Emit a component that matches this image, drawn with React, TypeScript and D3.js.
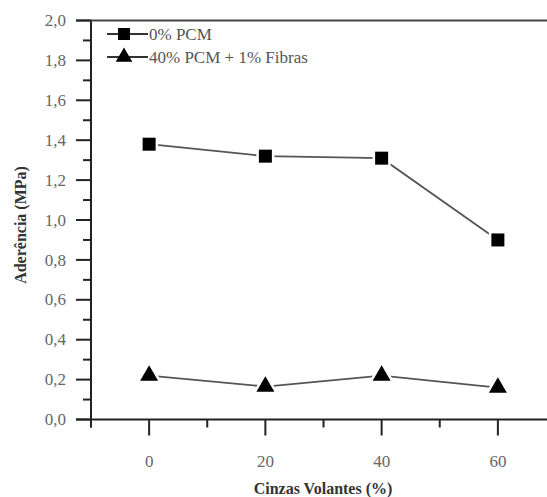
import React from "react";
import * as d3 from "d3";

const cinzas = [0, 20, 40, 60];
const pcm0 = [1.38, 1.32, 1.31, 0.9];
const pcm40 = [0.22, 0.165, 0.22, 0.16];
const yTicks = [0, 0.2, 0.4, 0.6, 0.8, 1.0, 1.2, 1.4, 1.6, 1.8, 2.0];
const yMinor = [0.1, 0.3, 0.5, 0.7, 0.9, 1.1, 1.3, 1.5, 1.7, 1.9];
const xTicks = [0, 20, 40, 60];
const xMinor = [-10, 10, 30, 50];
const seriesNames = ["0% PCM", "40% PCM + 1% Fibras"];

const W = 547;
const H = 497;
const FONT = "Liberation Serif, Times New Roman, serif";

export default function App() {
  const x = d3.scaleLinear().domain([-10, 70]).range([91, 556]);
  const y = d3.scaleLinear().domain([0, 2]).range([419.5, 20.5]);
  const line = d3
    .line<number>()
    .x((_, i) => x(cinzas[i]))
    .y((d) => y(d));
  const fmt = (v: number) => d3.format(".1f")(v).replace(".", ",");
  const tri = d3.symbol().type(d3.symbolTriangle).size(140)();
  const triL = d3.symbol().type(d3.symbolTriangle).size(120)();
  const sq = 13;

  const x0 = x(-10);
  const yb = y(0);

  return (
    <svg width={W} height={H} style={{ position: "absolute", left: 0, top: 0, background: "#fff", fontFamily: FONT }}>
      <rect width={W} height={H} fill="#fff" />
      {/* frame / axes */}
      <line x1={x0} x2={x0} y1={y(2)} y2={yb + 8} stroke="#222" strokeWidth={2} />
      <line x1={x0 - 15} x2={W} y1={yb} y2={yb} stroke="#222" strokeWidth={2} />
      <line x1={x0 - 15} x2={W} y1={y(2)} y2={y(2)} stroke="#444" strokeWidth={2} />
      {yTicks.map((t) => (
        <g key={"y" + t}>
          <line x1={x0 - 15} x2={x0} y1={y(t)} y2={y(t)} stroke="#222" strokeWidth={2} />
          <text x={x0 - 25} y={y(t)} dy="0.33em" textAnchor="end" fontFamily={FONT} fontSize={17} fill="#666">
            {fmt(t)}
          </text>
        </g>
      ))}
      {yMinor.map((t) => (
        <line key={"ym" + t} x1={x0 - 8} x2={x0} y1={y(t)} y2={y(t)} stroke="#222" strokeWidth={2} />
      ))}
      {xTicks.map((t) => (
        <g key={"x" + t}>
          <line x1={x(t)} x2={x(t)} y1={yb} y2={yb + 16} stroke="#222" strokeWidth={2} />
          <text x={x(t)} y={467} textAnchor="middle" fontFamily={FONT} fontSize={17} fill="#666">
            {t}
          </text>
        </g>
      ))}
      {xMinor.map((t) => (
        <line key={"xm" + t} x1={x(t)} x2={x(t)} y1={yb} y2={yb + 8} stroke="#222" strokeWidth={2} />
      ))}
      {/* axis titles */}
      <text
        transform={`translate(26, ${y(1) + 5}) rotate(-90)`}
        textAnchor="middle"
        fontFamily={FONT}
        fontSize={16}
        fontWeight="bold"
        fill="#333"
      >
        Aderência (MPa)
      </text>
      <text x={323} y={494} textAnchor="middle" fontFamily={FONT} fontSize={16} fontWeight="bold" fill="#333">
        Cinzas Volantes (%)
      </text>
      {/* series lines */}
      <path d={line(pcm0) || ""} fill="none" stroke="#555" strokeWidth={1.8} />
      <path d={line(pcm40) || ""} fill="none" stroke="#555" strokeWidth={1.8} />
      {pcm0.map((v, i) => (
        <rect
          key={"s" + i}
          x={x(cinzas[i]) - sq / 2}
          y={y(v) - sq / 2}
          width={sq}
          height={sq}
          fill="#000"
          stroke="#fff"
          strokeWidth={5}
          paintOrder="stroke"
        />
      ))}
      {pcm40.map((v, i) => (
        <path
          key={"t" + i}
          d={tri || ""}
          transform={`translate(${x(cinzas[i])}, ${y(v)})`}
          fill="#000"
          stroke="#fff"
          strokeWidth={5}
          paintOrder="stroke"
        />
      ))}
      {/* legend */}
      {seriesNames.map((name, i) => {
        const ly = 34 + i * 23;
        return (
          <g key={"lg" + i}>
            <line x1={107} x2={148} y1={ly} y2={ly} stroke="#333" strokeWidth={1.8} />
            {i === 0 ? (
              <rect x={124 - 6} y={ly - 6} width={12} height={12} fill="#000" />
            ) : (
              <path d={triL || ""} transform={`translate(124, ${ly})`} fill="#000" />
            )}
            <text x={149} y={ly} dy="0.33em" fontFamily={FONT} fontSize={17} fill="#555">
              {name}
            </text>
          </g>
        );
      })}
    </svg>
  );
}
